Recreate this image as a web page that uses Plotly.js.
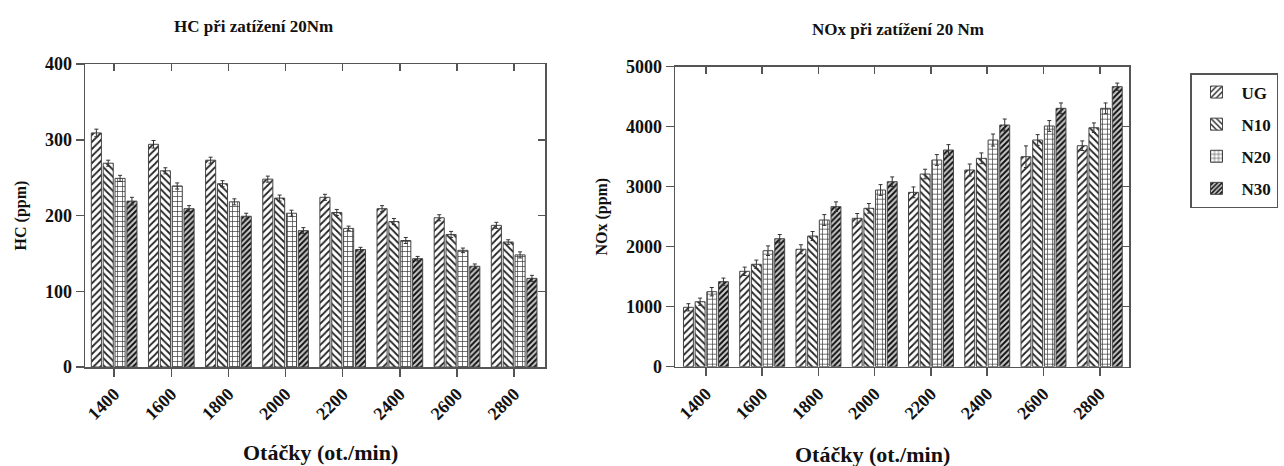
<!DOCTYPE html>
<html>
<head>
<meta charset="utf-8">
<script src="https://cdn.plot.ly/plotly-3.0.1.min.js"></script>
<style>html,body{margin:0;padding:0;background:#fff;}#chart{width:1284px;height:466px;}</style>
</head>
<body>
<div id="chart"></div>
<script>
// ---- data ----
const categories = ['1400','1600','1800','2000','2200','2400','2600','2800'];
const seriesNames = ['UG','N10','N20','N30'];

const hcUG  = [309, 294, 273, 248, 224, 209, 197, 187];
const hcN10 = [269, 259, 242, 223, 204, 192, 175, 165];
const hcN20 = [249, 239, 218, 203, 183, 167, 154, 148];
const hcN30 = [219, 209, 199, 180, 155, 143, 133, 117];
const hcErrUG  = [5, 5, 4, 4, 4, 4, 4, 4];
const hcErrN10 = [4, 4, 4, 4, 4, 4, 4, 3];
const hcErrN20 = [4, 4, 4, 4, 3, 4, 3, 4];
const hcErrN30 = [5, 4, 4, 4, 3, 3, 3, 4];

const noxUG  = [990, 1590, 1957, 2473, 2906, 3278, 3500, 3683];
const noxN10 = [1083, 1707, 2178, 2640, 3211, 3473, 3778, 3983];
const noxN20 = [1250, 1933, 2445, 2945, 3445, 3778, 4012, 4306];
const noxN30 = [1417, 2133, 2667, 3083, 3611, 4028, 4306, 4667];
const noxErrUG  = [60, 70, 75, 80, 90, 100, 180, 80];
const noxErrN10 = [60, 70, 75, 80, 80, 90, 90, 80];
const noxErrN20 = [70, 80, 90, 90, 90, 100, 90, 90];
const noxErrN30 = [60, 70, 80, 80, 90, 100, 90, 60];

const hcTitle  = 'HC při zatížení 20Nm';
const noxTitle = 'NOx při zatížení 20 Nm';
const xTitle   = 'Otáčky (ot./min)';

const hcSeries  = [hcUG, hcN10, hcN20, hcN30];
const hcErrs    = [hcErrUG, hcErrN10, hcErrN20, hcErrN30];
const noxSeries = [noxUG, noxN10, noxN20, noxN30];
const noxErrs   = [noxErrUG, noxErrN10, noxErrN20, noxErrN30];

// ---- styles ----
const patterns = [
  {shape:'/',  fgcolor:'#222', bgcolor:'#fff', size:5, solidity:0.35},
  {shape:'\\', fgcolor:'#222', bgcolor:'#fff', size:5, solidity:0.35},
  {shape:'+',  fgcolor:'#333', bgcolor:'#fff', size:5, solidity:0.25},
  {shape:'/',  fgcolor:'#111', bgcolor:'#ccc', size:4, solidity:0.5}
];
const FONT = '"Liberation Serif", "Times New Roman", serif';
const W = 1284, H = 466;

const traces = [];
function addBars(vals, errs, xa, ya, showleg){
  for(let i=0;i<4;i++){
    traces.push({
      type:'bar', x:categories, y:vals[i], name:seriesNames[i],
      xaxis:xa, yaxis:ya, legendgroup:seriesNames[i], showlegend:showleg,
      marker:{color:'#fff', pattern:patterns[i], line:{color:'#444', width:1}},
      error_y:{type:'data', array:errs[i], visible:true, color:'#333', thickness:1, width:2}
    });
  }
}
addBars(hcSeries, hcErrs, 'x', 'y', true);
addBars(noxSeries, noxErrs, 'x2', 'y2', false);
// empty helper traces so the mirrored inside-tick axes get drawn
traces.push({type:'scatter', mode:'markers', x:[], y:[], xaxis:'x3', yaxis:'y3', showlegend:false, hoverinfo:'skip'});
traces.push({type:'scatter', mode:'markers', x:[], y:[], xaxis:'x4', yaxis:'y4', showlegend:false, hoverinfo:'skip'});

const lx = [85/W, 545/W], ly = [1-367/H, 1-64/H];
const rx = [675/W, 1129/W], ry = [1-366.7/H, 1-66.7/H];
const hcXRange = [-0.51, 7.54], noxXRange = [-0.55, 7.52];

const tickFont = {family:FONT, size:18, color:'#111', weight:'bold'};
const axLine = '#555';

function xMain(domain, anchor, range){
  return {domain, anchor, type:'category', range, tickangle:-45,
    ticks:'outside', ticklen:8, tickwidth:1.5, tickcolor:axLine,
    showline:true, linecolor:axLine, linewidth:1.5, mirror:true,
    showgrid:false, zeroline:false, tickfont:tickFont};
}
function yMain(domain, anchor, range, dtick, title){
  return {domain, anchor, range, dtick, tickmode:'linear', tick0:0,
    ticks:'outside', ticklen:8, tickwidth:1.5, tickcolor:axLine,
    showline:true, linecolor:axLine, linewidth:1.5, mirror:true,
    showgrid:false, zeroline:false, tickfont:tickFont,
    title:{text:title, font:{family:FONT, size:16, color:'#111', weight:'bold'}, standoff:14}};
}
function xTop(overlay, anchor, range){
  return {overlaying:overlay, anchor, side:'top', range, tickmode:'array', tickvals:[0,1,2,3,4,5,6,7],
    ticks:'inside', ticklen:7, tickwidth:1.5, tickcolor:axLine, showticklabels:false,
    showline:false, showgrid:false, zeroline:false};
}
function yRight(overlay, anchor, range, dtick){
  return {overlaying:overlay, anchor, side:'right', range, tickmode:'linear', tick0:0, dtick,
    ticks:'inside', ticklen:7, tickwidth:1.5, tickcolor:axLine, showticklabels:false,
    showline:false, showgrid:false, zeroline:false};
}

const titleFont = {family:FONT, size:17, color:'#111', weight:'bold'};
const xTitleFont = {family:FONT, size:22, color:'#111', weight:'bold'};

const layout = {
  width:W, height:H, margin:{l:0, r:0, t:0, b:0},
  paper_bgcolor:'#fff', plot_bgcolor:'#fff',
  barmode:'group', bargap:0.17, bargroupgap:0.15,
  font:{family:FONT, color:'#111'},
  xaxis: xMain(lx, 'y', hcXRange),
  yaxis: yMain(ly, 'x', [0,400], 100, 'HC (ppm)'),
  xaxis2: xMain(rx, 'y2', noxXRange),
  yaxis2: yMain(ry, 'x2', [0,5000], 1000, 'NOx (ppm)'),
  xaxis3: xTop('x', 'y', hcXRange),
  yaxis3: yRight('y', 'x', [0,400], 100),
  xaxis4: xTop('x2', 'y2', noxXRange),
  yaxis4: yRight('y2', 'x2', [0,5000], 1000),
  legend:{x:1190/W, y:1-73/H, xanchor:'left', yanchor:'top',
    bordercolor:'#555', borderwidth:1.5, bgcolor:'#fff', itemwidth:40,
    font:{family:FONT, size:17, color:'#111', weight:'bold'}, tracegroupgap:7},
  annotations:[
    {text:hcTitle, x:253/W, y:1-27/H, xref:'paper', yref:'paper', xanchor:'center', yanchor:'middle',
     showarrow:false, font:titleFont},
    {text:noxTitle, x:898/W, y:1-30/H, xref:'paper', yref:'paper', xanchor:'center', yanchor:'middle',
     showarrow:false, font:titleFont},
    {text:xTitle, x:320/W, y:1-452/H, xref:'paper', yref:'paper', xanchor:'center', yanchor:'middle',
     showarrow:false, font:xTitleFont},
    {text:xTitle, x:872/W, y:1-454/H, xref:'paper', yref:'paper', xanchor:'center', yanchor:'middle',
     showarrow:false, font:xTitleFont}
  ]
};

Plotly.newPlot('chart', traces, layout, {displayModeBar:false, staticPlot:true});
</script>
</body>
</html>
